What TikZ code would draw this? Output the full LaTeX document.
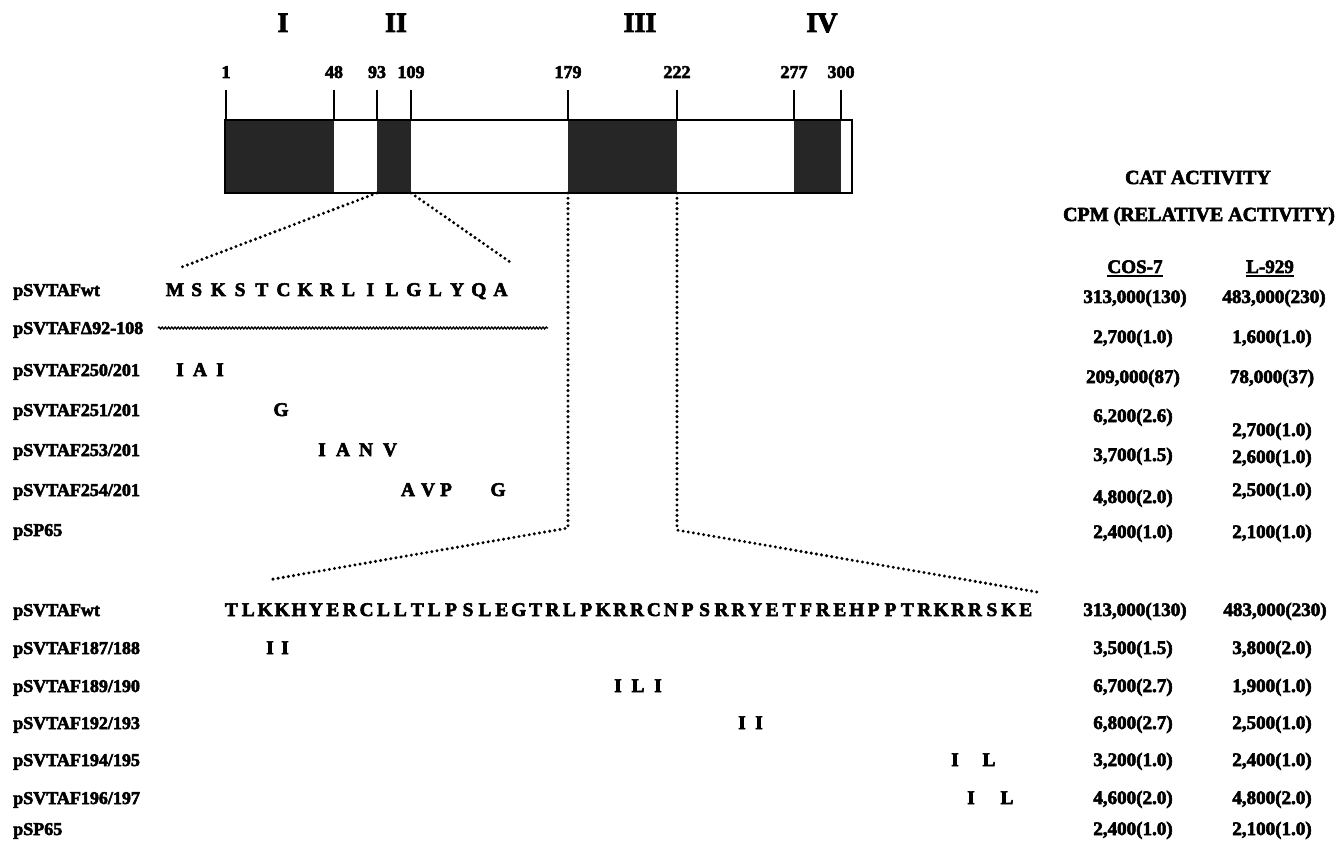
\documentclass[tikz,border=0pt]{standalone}
\usepackage{fontspec}
\setmainfont{Liberation Serif}[BoldFeatures={FakeBold=3}]
\usetikzlibrary{decorations.pathmorphing}
\begin{document}
\begin{tikzpicture}[x=0.75pt,y=-0.75pt,
  txt/.style={inner sep=0pt, anchor=base, font=\fontsize{13.5}{16}\selectfont\bfseries},
  seq/.style={txt, font=\fontsize{14.5}{17}\selectfont\bfseries},
  lbl/.style={txt, anchor=base west},
  roman/.style={txt, font=\fontsize{21}{25}\selectfont\bfseries},
  val/.style={txt, font=\fontsize{14.3}{17}\selectfont\bfseries},
  head/.style={txt, font=\fontsize{15}{18}\selectfont\bfseries},
  dots/.style={line width=2.5pt, dash pattern=on 0pt off 3.9pt, line cap=round},
  shade/.style={fill=black!85},
  tickline/.style={line width=2pt},
  wavy/.style={line width=1pt, decorate, decoration={snake, segment length=2.4pt, amplitude=0.7pt}},
]
\fill[white] (0,0) rectangle (1337,841);
\useasboundingbox (0,0) rectangle (1337,841);

% roman numerals
\node[roman] (rI) at (283,32) {I};
\node[roman] (rII) at (396,32) {II};
\node[roman] (rIII) at (640,32) {III};
\node[roman] (rIV) at (822,32) {IV};

% bar
\fill[shade] (225,120) rectangle (334,193);
\fill[shade] (377,120) rectangle (411,193);
\fill[shade] (568,120) rectangle (677,193);
\fill[shade] (794,120) rectangle (841,193);
\draw[line width=1.8pt] (225,120) rectangle (852,193);

% ticks and numbers
\foreach \x/\n in {226/1, 334/48, 377/93, 411/109, 568/179, 677/222, 794/277, 841/300} {
  \draw[tickline] (\x,90) -- (\x,120);
  \node[txt] (n\n) at (\x,78) {\n};
}

% zoom lines
\coordinate (z1) at (377,193);
\coordinate (z1e) at (182,267);
\coordinate (z2) at (411,193);
\coordinate (z2e) at (510,262);
\coordinate (z3) at (568,193);
\coordinate (z3c) at (568,528);
\coordinate (z3e) at (268,580);
\coordinate (z4) at (677,193);
\coordinate (z4c) at (677,530);
\coordinate (z4e) at (1037,592);
\draw[dots] (z1) -- (z1e);
\draw[dots] (z2) -- (z2e);
\draw[dots] (z3) -- (z3c) -- (z3e);
\draw[dots] (z4) -- (z4c) -- (z4e);

% upper labels
\node[lbl] (u1) at (13,296) {pSVTAFwt};
\node[lbl] (u2) at (13,334) {pSVTAFΔ92-108};
\node[lbl] (u3) at (13,376) {pSVTAF250/201};
\node[lbl] (u4) at (13,416) {pSVTAF251/201};
\node[lbl] (u5) at (13,456) {pSVTAF253/201};
\node[lbl] (u6) at (13,496) {pSVTAF254/201};
\node[lbl] (u7) at (13,536) {pSP65};

% upper sequence
\foreach \c [count=\i from 0] in {M,S,K,S,T,C,K,R,L,I,L,G,L,Y,Q,A}
  \node[seq] (us\i) at (175+21.7*\i,296) {\c};
\coordinate (dl1) at (158,328);
\coordinate (dl2) at (548,328);
\draw[wavy] (dl1) -- (dl2);

% upper mutations
\node[seq] (m1a) at (180,376) {I};
\node[seq] (m1b) at (200,376) {A};
\node[seq] (m1c) at (220,376) {I};
\node[seq] (m2a) at (281,416) {G};
\node[seq] (m3a) at (322,456) {I};
\node[seq] (m3b) at (343,456) {A};
\node[seq] (m3c) at (366,456) {N};
\node[seq] (m3d) at (390,456) {V};
\node[seq] (m4a) at (408,496) {A};
\node[seq] (m4b) at (428,496) {V};
\node[seq] (m4c) at (446,496) {P};
\node[seq] (m4d) at (498,496) {G};

% lower labels
\node[lbl] (w1) at (13,616) {pSVTAFwt};
\node[lbl] (w2) at (13,654) {pSVTAF187/188};
\node[lbl] (w3) at (13,692) {pSVTAF189/190};
\node[lbl] (w4) at (13,729) {pSVTAF192/193};
\node[lbl] (w5) at (13,766) {pSVTAF194/195};
\node[lbl] (w6) at (13,804) {pSVTAF196/197};
\node[lbl] (w7) at (13,835) {pSP65};

% lower sequence
\foreach \c [count=\i from 0] in {T,L,K,K,H,Y,E,R,C,L,L,T,L,P,S,L,E,G,T,R,L,P,K,R,R,C,N,P,S,R,R,Y,E,T,F,R,E,H,P,P,T,R,K,R,R,S,K,E}
  \node[seq] (ls\i) at (231.4+16.9*\i,616) {\c};

% lower mutations
\node[seq] (k1a) at (270,654) {I};
\node[seq] (k1b) at (285,654) {I};
\node[seq] (k2a) at (618,692) {I};
\node[seq] (k2b) at (638,692) {L};
\node[seq] (k2c) at (658,692) {I};
\node[seq] (k3a) at (742,729) {I};
\node[seq] (k3b) at (759,729) {I};
\node[seq] (k4a) at (955,766) {I};
\node[seq] (k4b) at (989,766) {L};
\node[seq] (k5a) at (971,804) {I};
\node[seq] (k5b) at (1007,804) {L};

% right headers
\node[head] (h1) at (1198,184) {CAT ACTIVITY};
\node[head] (h2) at (1199,221) {CPM (RELATIVE ACTIVITY)};
\node[val] (hc) at (1135,273) {COS-7};
\node[val] (hl) at (1270,273) {L-929};
\draw[line width=1.2pt] ([yshift=-2.2pt]hc.base west) -- ([yshift=-2.2pt]hc.base east);
\draw[line width=1.2pt] ([yshift=-2.2pt]hl.base west) -- ([yshift=-2.2pt]hl.base east);

% upper values
\node[val] (a1) at (1135,303) {313,000(130)};
\node[val] (b1) at (1274,303) {483,000(230)};
\node[val] (a2) at (1133,343) {2,700(1.0)};
\node[val] (b2) at (1272,343) {1,600(1.0)};
\node[val] (a3) at (1133,383) {209,000(87)};
\node[val] (b3) at (1272,383) {78,000(37)};
\node[val] (a4) at (1133,422) {6,200(2.6)};
\node[val] (b4) at (1272,436) {2,700(1.0)};
\node[val] (a5) at (1133,461) {3,700(1.5)};
\node[val] (b5) at (1272,463) {2,600(1.0)};
\node[val] (a6) at (1133,503) {4,800(2.0)};
\node[val] (b6) at (1272,496) {2,500(1.0)};
\node[val] (a7) at (1133,538) {2,400(1.0)};
\node[val] (b7) at (1272,538) {2,100(1.0)};

% lower values
\node[val] (c1) at (1135,616) {313,000(130)};
\node[val] (d1) at (1275,616) {483,000(230)};
\node[val] (c2) at (1133,654) {3,500(1.5)};
\node[val] (d2) at (1272,654) {3,800(2.0)};
\node[val] (c3) at (1133,692) {6,700(2.7)};
\node[val] (d3) at (1272,692) {1,900(1.0)};
\node[val] (c4) at (1133,729) {6,800(2.7)};
\node[val] (d4) at (1272,729) {2,500(1.0)};
\node[val] (c5) at (1133,766) {3,200(1.0)};
\node[val] (d5) at (1272,766) {2,400(1.0)};
\node[val] (c6) at (1133,804) {4,600(2.0)};
\node[val] (d6) at (1272,804) {4,800(2.0)};
\node[val] (c7) at (1133,835) {2,400(1.0)};
\node[val] (d7) at (1272,835) {2,100(1.0)};
\end{tikzpicture}
\end{document}
